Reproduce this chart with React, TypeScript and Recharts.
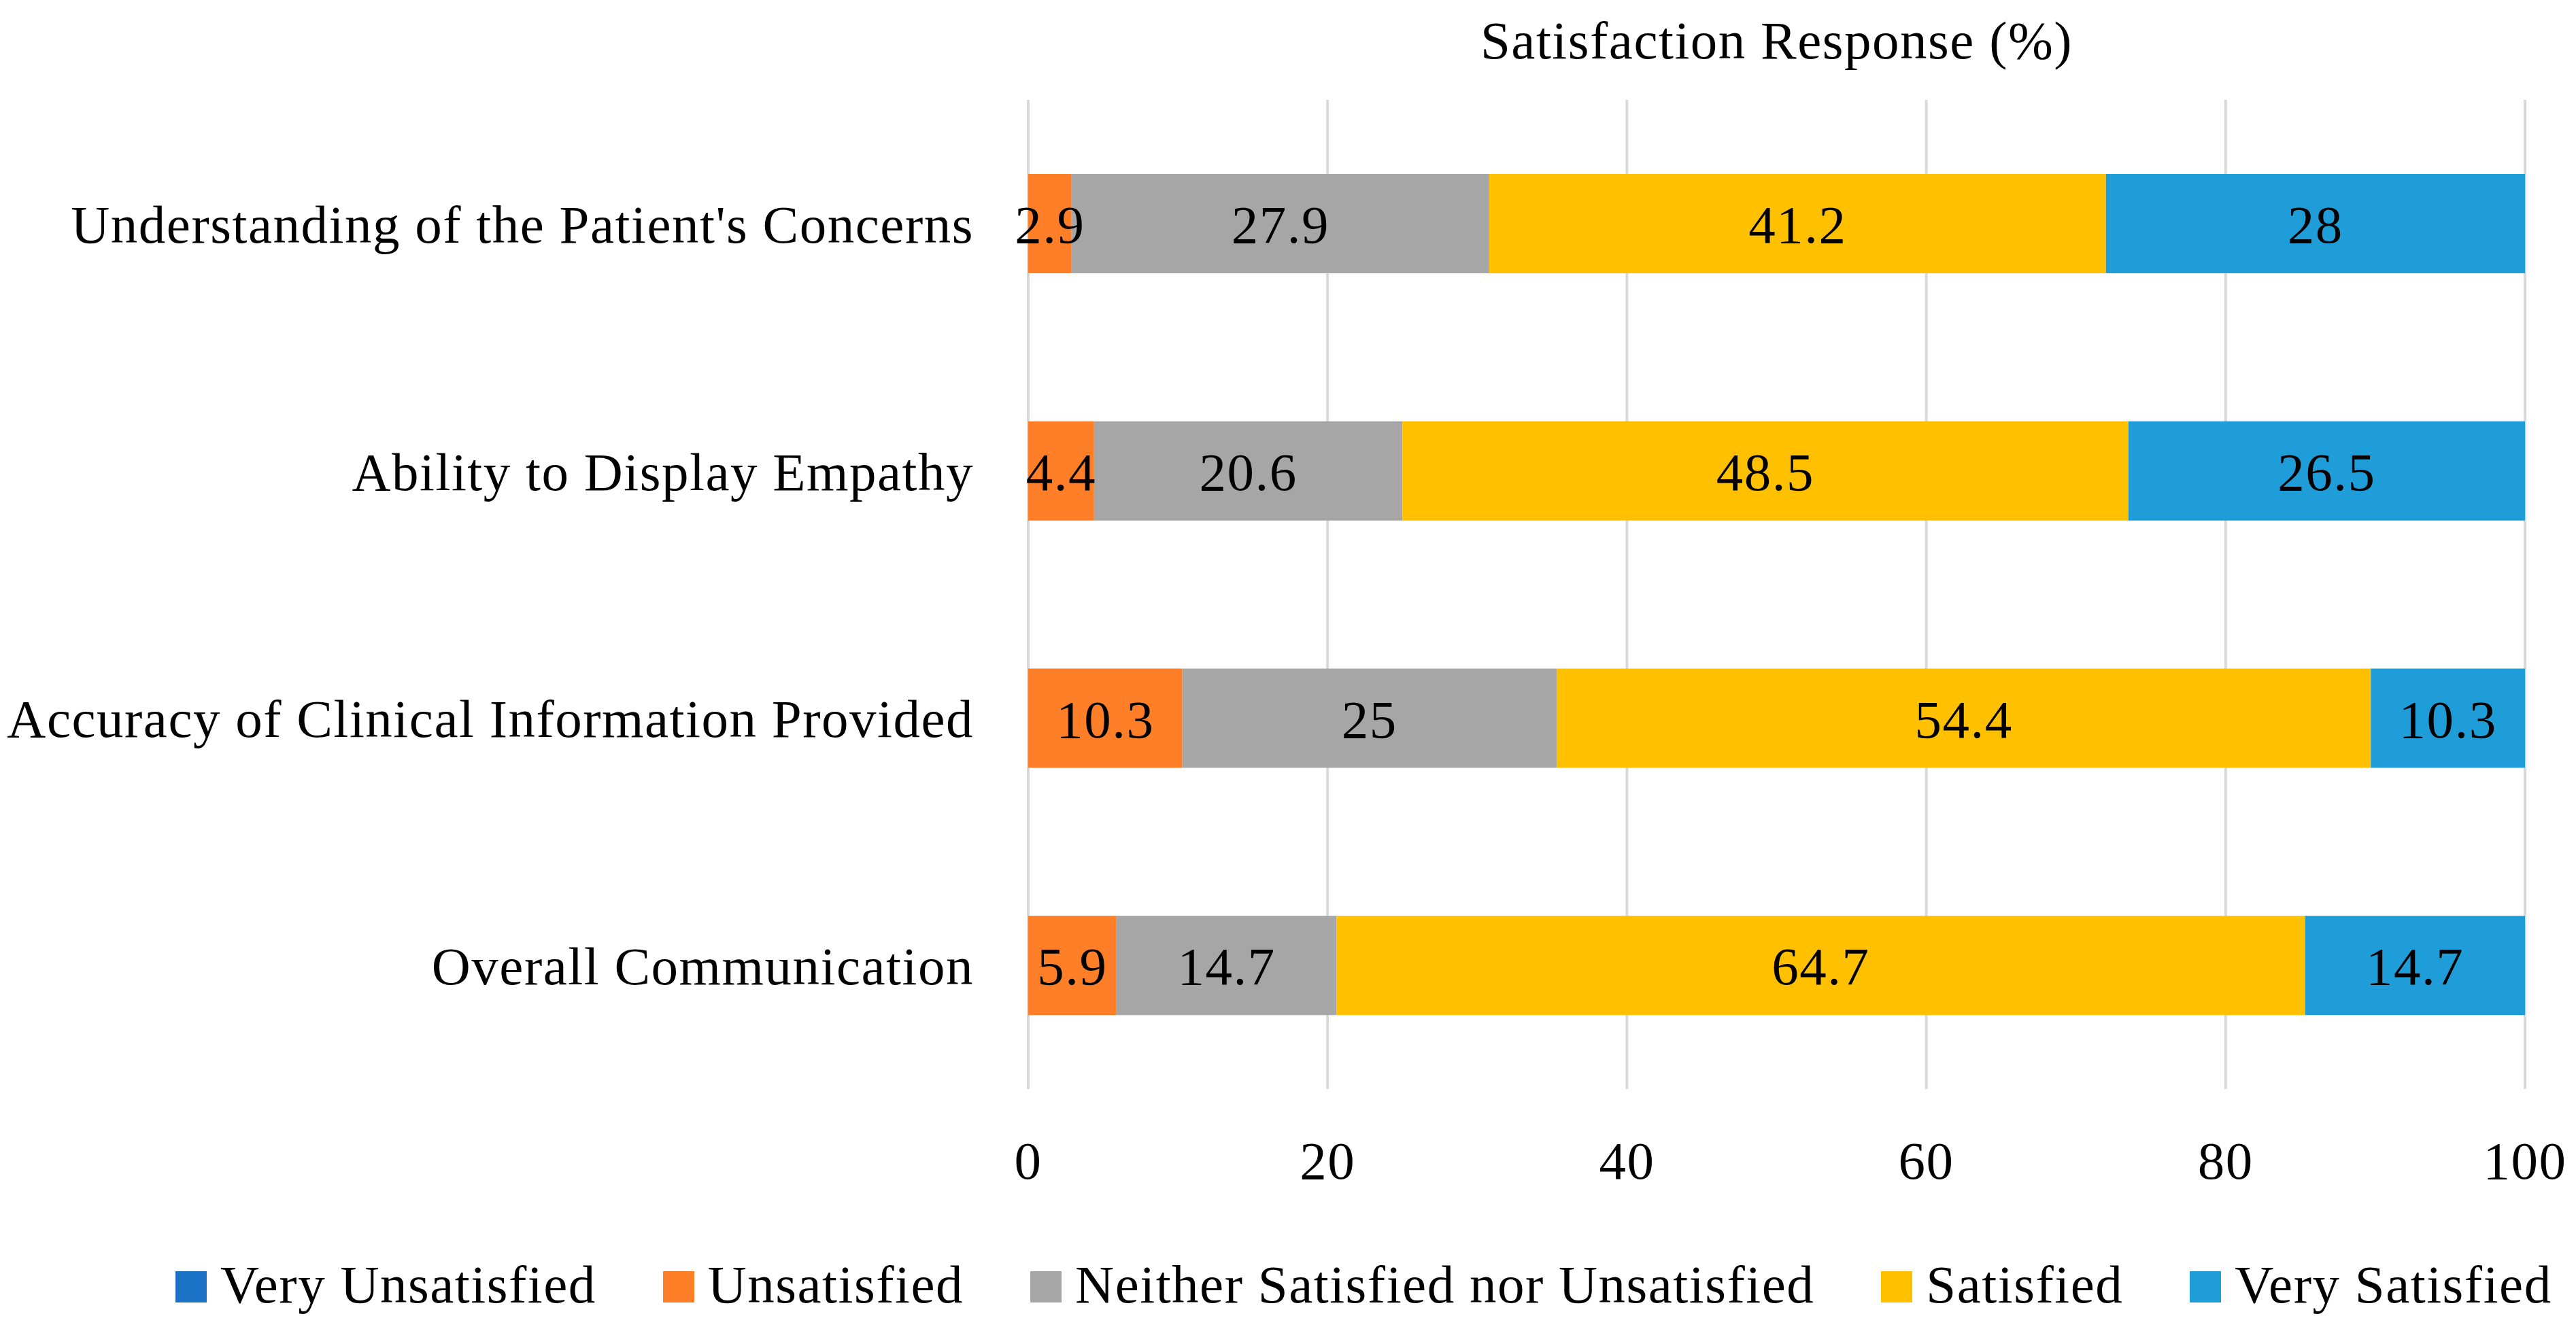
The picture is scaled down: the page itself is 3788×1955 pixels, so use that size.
import React from 'react';
import { BarChart, Bar, XAxis, YAxis, CartesianGrid, Legend, LabelList } from 'recharts';

const categories = [
  "Understanding of the Patient's Concerns",
  'Ability to Display Empathy',
  'Accuracy of Clinical Information Provided',
  'Overall Communication',
];
const veryUnsatisfied = [0, 0, 0, 0];
const unsatisfied = [2.9, 4.4, 10.3, 5.9];
const neither = [27.9, 20.6, 25, 14.7];
const satisfied = [41.2, 48.5, 54.4, 64.7];
const verySatisfied = [28, 26.5, 10.3, 14.7];
const xTicks = [0, 20, 40, 60, 80, 100];

const seriesNames = [
  'Very Unsatisfied',
  'Unsatisfied',
  'Neither Satisfied nor Unsatisfied',
  'Satisfied',
  'Very Satisfied',
];
const seriesKeys = ['vu', 'u', 'n', 's', 'vs'];
const seriesColors = ['#1C72C6', '#FE7F28', '#A6A6A6', '#FFC000', '#1E9DD8'];

const data = categories.map((name, i) => ({
  name,
  vu: veryUnsatisfied[i],
  u: unsatisfied[i],
  n: neither[i],
  s: satisfied[i],
  vs: verySatisfied[i],
}));

const FONT = '"Liberation Serif", "Times New Roman", serif';
const FS = 79;
const LS = 1.5;
const textStyle = { letterSpacing: `${LS}px` };

const renderLegend = () => (
  <div
    style={{
      height: 100,
      paddingLeft: 250,
      fontFamily: FONT,
      fontSize: FS,
      letterSpacing: `${LS}px`,
      color: '#000',
      lineHeight: '86px',
      whiteSpace: 'nowrap',
      textAlign: 'left',
    }}
  >
    {seriesNames.map((n, i) => (
      <span key={n} style={{ display: 'inline-block', marginRight: 98 }}>
        <span
          style={{
            display: 'inline-block',
            width: 46,
            height: 46,
            background: seriesColors[i],
            marginRight: 20,
            verticalAlign: 'baseline',
          }}
        />
        <span>{n}</span>
      </span>
    ))}
  </div>
);

const fmt = (v: any) => (v === 0 ? '' : String(v));

export default function App() {
  return (
    <div style={{ width: 3772, height: 1939, background: '#fff' }}>
      <BarChart
        width={3772}
        height={1939}
        data={data}
        layout="vertical"
        margin={{ top: 0, right: 67, bottom: 0, left: 0 }}
      >
        <CartesianGrid horizontal={false} vertical={true} stroke="#D9D9D9" strokeWidth={4} />
        <XAxis
          xAxisId="top"
          orientation="top"
          type="number"
          domain={[0, 100]}
          height={139}
          tick={false}
          axisLine={false}
          tickLine={false}
          label={{
            value: 'Satisfaction Response (%)',
            position: 'insideTop',
            offset: 22,
            fontSize: FS,
            fill: '#000',
            fontFamily: FONT,
            letterSpacing: LS,
            style: textStyle,
          }}
        />
        <XAxis
          type="number"
          domain={[0, 100]}
          ticks={xTicks}
          height={245}
          axisLine={false}
          tickLine={false}
          tickSize={0}
          tickMargin={76}
          tick={{ fontSize: FS, fill: '#000', fontFamily: FONT, letterSpacing: LS, style: textStyle }}
        />
        <YAxis
          type="category"
          dataKey="name"
          width={1504}
          axisLine={false}
          tickLine={false}
          tickSize={0}
          tickMargin={80}
          interval={0}
          tick={{ fontSize: FS, fill: '#000', fontFamily: FONT, letterSpacing: LS, style: textStyle }}
        />
        <Legend verticalAlign="bottom" height={100} content={renderLegend} />
        {seriesKeys.map((k, i) => (
          <Bar
            key={k}
            dataKey={k}
            name={seriesNames[i]}
            stackId="a"
            fill={seriesColors[i]}
            barSize={146}
            isAnimationActive={false}
          >
            {i > 0 && (
              <LabelList
                dataKey={k}
                position="center"
                formatter={fmt}
                fill="#000"
                fontSize={FS}
                fontFamily={FONT}
                letterSpacing={LS}
                style={textStyle}
              />
            )}
          </Bar>
        ))}
      </BarChart>
    </div>
  );
}
